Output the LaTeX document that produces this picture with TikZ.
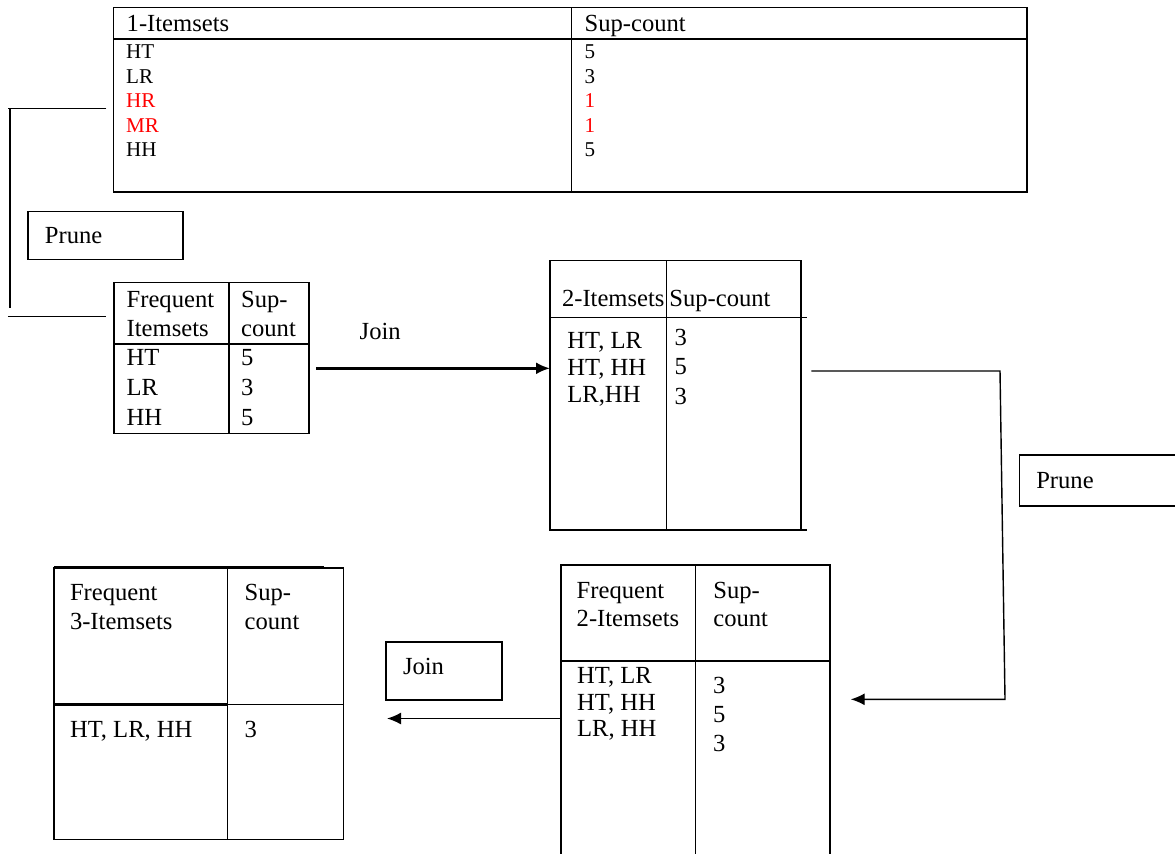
\documentclass[tikz,border=0pt]{standalone}
\usepackage{fontspec}
\setmainfont{Liberation Serif}
\usepackage{tikz}
\usetikzlibrary{arrows.meta}

\begin{document}
\begin{tikzpicture}[x=0.02cm, y=-0.02cm, line width=0.8pt,
    frame/.style={draw, rectangle, inner sep=0pt, outer sep=0pt, anchor=north west},
    txt/.style={inner sep=0pt, anchor=base west, font=\fontsize{14}{17}\selectfont},
    col/.style={inner sep=0pt, anchor=north west, align=left},
    opbox/.style={draw, inner xsep=0.34cm, inner ysep=0pt, outer sep=0pt, align=left,
        anchor=base west, font=\fontsize{14}{17}\selectfont},
    headarrow/.style={-{Latex[length=2.8mm,width=2.4mm]}}]
    \useasboundingbox (0,0) rectangle (1175,853);
    \clip (0,0) rectangle (1175,853);

    % table frames
    \node[frame, minimum width=18.27cm, minimum height=3.69cm] (t1) at (113.5,7.5) {};
    \node[frame, minimum width=3.9cm, minimum height=3.026cm] (t2) at (114,282.3) {};
    \node[frame, minimum width=5.02cm, minimum height=5.386cm] (t3) at (550,260.7) {};
    \node[frame, minimum width=5.38cm, minimum height=6.2cm] (t4) at (561,565) {};
    \node[frame, minimum width=5.786cm, minimum height=5.426cm] (t5) at (54,568) {};

    % table rules
    \draw (113.5,39) -- (1027,39) (571.5,7.5) -- (571.5,192);
    \draw (114,344) -- (309,344) (229,282.3) -- (229,433.3);
    \draw (550,317.7) -- (806.7,317.7) (666.3,260.7) -- (666.3,530) (801,530) -- (806.7,530);
    \draw (561,661) -- (830,661) (695.7,565) -- (695.7,875);
    \draw (54,704.3) -- (343.3,704.3) (227.3,568) -- (227.3,839.3);
    \draw[line width=1.4pt] (54,567.7) -- (323.6,567.7) (54,704.3) -- (227.3,704.3);

    % 1-itemsets
    \node[txt] (h1a) at (126,31.7) {1-Itemsets};
    \node[txt] (h1b) at (584,31.7) {Sup-count};
    \node[col, font=\fontsize{12}{13.95}\selectfont] (i1) at (125.5,44.3)
        {HT\\LR\\\textcolor{red}{HR}\\\textcolor{red}{MR}\\HH};
    \node[col, font=\fontsize{12}{13.95}\selectfont] (s1) at (584,44)
        {5\\3\\\textcolor{red}{1}\\\textcolor{red}{1}\\5};

    % frequent itemsets
    \node[col, font=\fontsize{14}{17}\selectfont] (h2a) at (126,290.3) {Frequent\\Itemsets};
    \node[col, font=\fontsize{14}{17}\selectfont] (h2b) at (240.5,290) {Sup-\\count};
    \node[col, font=\fontsize{14}{17.1}\selectfont] (i2) at (126,348.6) {HT\\LR\\HH};
    \node[col, font=\fontsize{14}{17.1}\selectfont] (s2) at (240.5,348.3) {5\\3\\5};

    % 2-itemsets
    \node[txt] (h3a) at (561.3,306.7) {2-Itemsets};
    \node[txt] (h3b) at (668.7,306.7) {Sup-count};
    \node[col, font=\fontsize{14}{15.5}\selectfont] (i3) at (566.7,331.3) {HT, LR\\HT, HH\\LR,HH};
    \node[col, font=\fontsize{14}{16.8}\selectfont] (s3) at (674,328.3) {3\\5\\3};

    % frequent 2-itemsets
    \node[col, font=\fontsize{14}{16.4}\selectfont] (h4a) at (576,581.3) {Frequent\\2-Itemsets};
    \node[col, font=\fontsize{14}{16.4}\selectfont] (h4b) at (712.7,581) {Sup-\\count};
    \node[col, font=\fontsize{14}{15.1}\selectfont] (i4) at (576.5,666.9) {HT, LR\\HT, HH\\LR, HH};
    \node[col, font=\fontsize{14}{16.5}\selectfont] (s4) at (712.3,676.6) {3\\5\\3};

    % frequent 3-itemsets
    \node[col, font=\fontsize{14}{16.4}\selectfont] (h5a) at (69.3,583.6) {Frequent\\3-Itemsets};
    \node[col, font=\fontsize{14}{16.4}\selectfont] (h5b) at (244,583.3) {Sup-\\count};
    \node[txt] (i5) at (69.3,737.7) {HT, LR, HH};
    \node[txt] (s5) at (244,737.7) {3};

    % operations
    \node[opbox, text width=2.42cm, text height=0.64cm, text depth=0.32cm] (prune1) at (27.9,243.3) {Prune};
    \node[opbox, text width=2.92cm, text height=0.666cm, text depth=0.354cm] (prune2) at (1019.3,488.3) {Prune};
    \node[opbox, text width=1.64cm, text height=0.64cm, text depth=0.52cm] (join2) at (386,674) {Join};
    \node[txt] (join1) at (359,339.3) {Join};

    % connectors
    \coordinate (b1) at (106.4,108.3);
    \coordinate (b2) at (106.4,316.7);
    \draw (b1) -- (8.4,108.3) (10,108.3) -- (10,308.3) (7.9,316.7) -- (b2);

    \coordinate (j1) at (316.4,368.3);
    \draw[headarrow, line width=1.4pt] (j1) -- (j1 -| t3.west);

    \coordinate (e1) at (811.3,371);
    \coordinate (e2) at (850.7,699.3);
    \draw[headarrow] (e1) -- (1000,371) -- (1005,699.3) -- (e2);

    \coordinate (j2) at (387,718.5);
    \draw[headarrow] (t4.west |- j2) -- (j2);
\end{tikzpicture}
\end{document}
